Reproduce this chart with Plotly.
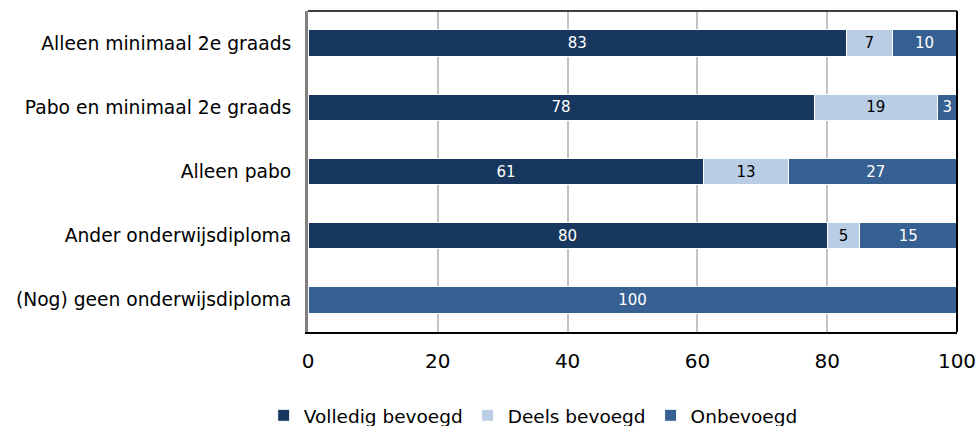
import plotly.graph_objects as go

categories = ["Alleen minimaal 2e graads", "Pabo en minimaal 2e graads", "Alleen pabo",
              "Ander onderwijsdiploma", "(Nog) geen onderwijsdiploma"]
volledig = [83, 78, 61, 80, None]
deels = [7, 19, 13, 5, None]
onbevoegd = [10, 3, 27, 15, 100]
series_names = ["Volledig bevoegd", "Deels bevoegd", "Onbevoegd"]
x_ticks = [0, 20, 40, 60, 80, 100]

colors = ["#17375E", "#B9CDE5", "#376092"]
text_colors = ["white", "black", "white"]
FONT = "DejaVu Sans"

fig = go.Figure()
for name, vals, col, tcol in zip(series_names, [volledig, deels, onbevoegd], colors, text_colors):
    fig.add_trace(go.Bar(
        y=categories, x=vals, name=name, orientation="h",
        marker=dict(color=col, line=dict(color="white", width=1)),
        text=["" if v is None else str(v) for v in vals],
        textposition="inside", insidetextanchor="middle", textangle=0,
        textfont=dict(color=tcol, size=15, family=FONT),
        width=0.41,
    ))

fig.update_layout(
    barmode="stack",
    width=979, height=426,
    margin=dict(l=308, r=22, t=11, b=94, autoexpand=False),
    plot_bgcolor="white", paper_bgcolor="white",
    font=dict(family=FONT, color="black"),
    uniformtext=dict(minsize=15, mode="show"),
    legend=dict(orientation="h", x=0.347, xanchor="center", y=-0.261, yanchor="middle",
                font=dict(size=18.5, family=FONT), traceorder="normal", itemwidth=30),
    xaxis=dict(range=[0, 100], tickvals=x_ticks, showgrid=True, gridcolor="#C4C4C4", gridwidth=2,
               zeroline=False, showline=True, linecolor="black", linewidth=2, automargin=False,
               tickfont=dict(size=20, family=FONT), ticks="", ticklen=0, ticklabelstandoff=10),
    yaxis=dict(autorange="reversed", showgrid=False, showline=True, linecolor="#808080", linewidth=3,
               automargin=False, tickfont=dict(size=18.7, family=FONT), ticks="", ticklen=0,
               ticklabelstandoff=10),
    bargap=0.59,
    shapes=[
        dict(type="line", xref="paper", yref="paper", x0=0, x1=1, y0=1, y1=1,
             line=dict(color="black", width=1.5)),
        dict(type="line", xref="paper", yref="paper", x0=1, x1=1, y0=0, y1=1,
             line=dict(color="black", width=2)),
    ],
)

fig.write_html("out.html", config={"displayModeBar": False},
               post_script="document.body.style.margin='0';document.body.style.overflow='hidden';")
